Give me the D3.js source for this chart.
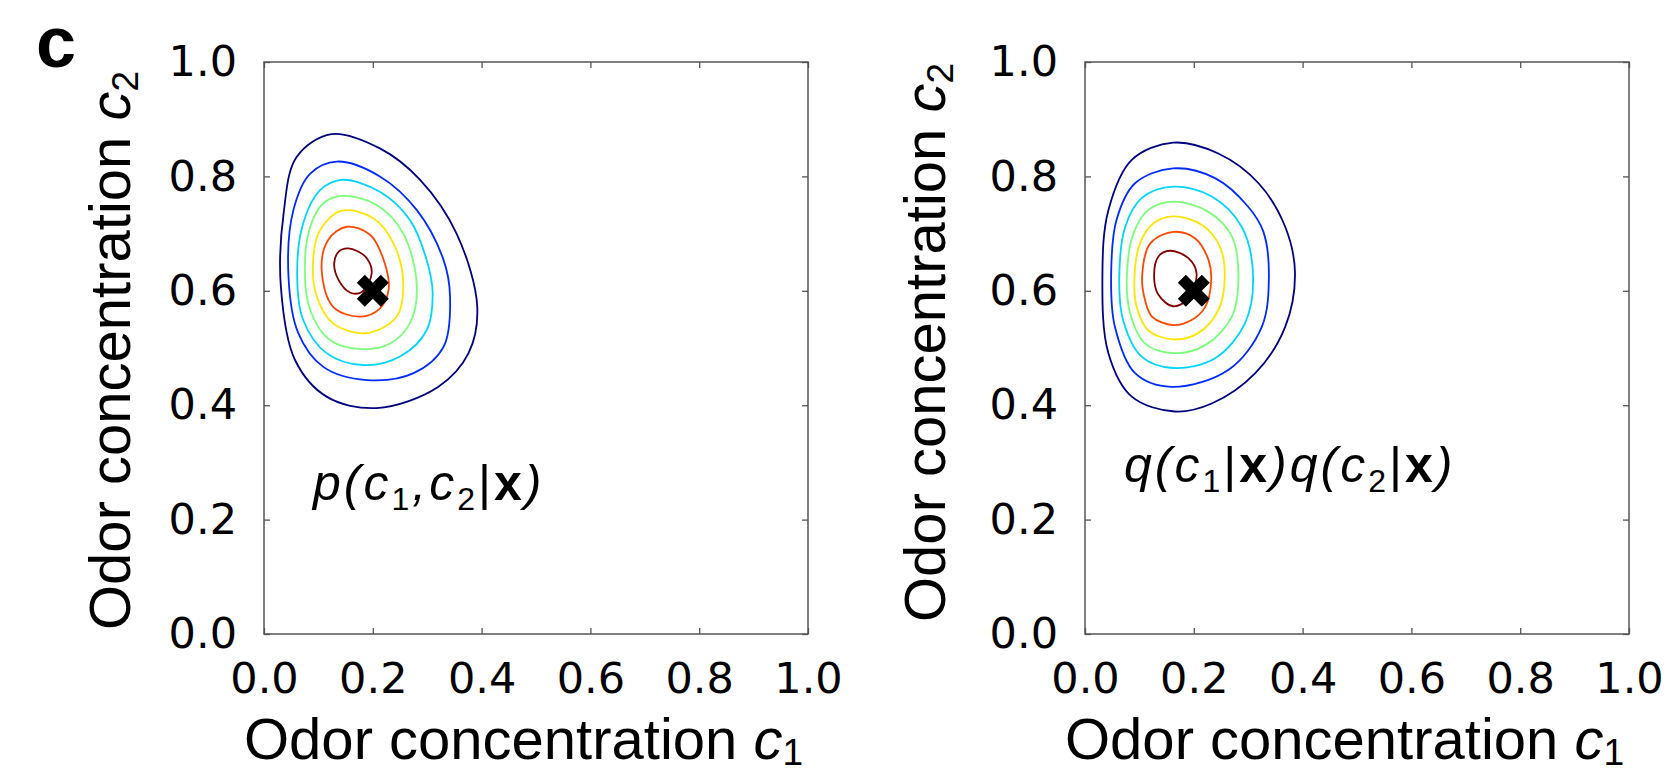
<!DOCTYPE html>
<html>
<head>
<meta charset="utf-8">
<script src="https://cdn.jsdelivr.net/npm/d3@7"></script>
<style>
  body { margin: 0; background: #fff; }
  svg { display: block; }
</style>
</head>
<body>
<svg width="1665" height="775"></svg>
<script>
// ticks and contour colours (jet, 7 levels low -> high)
var tickValues = [0, 0.2, 0.4, 0.6, 0.8, 1.0];
var levelColors = ['#000080', '#002aff', '#00d4ff', '#7bff7b', '#ffe500', '#ff4800', '#800000'];
var trueConc = [0.2, 0.6];

// p(c1,c2|x): contour rings, [c1, c2]
var jointRings = [
  [[0.124,0.874],[0.213,0.849],[0.287,0.794],[0.354,0.700],[0.392,0.572],[0.376,0.491],[0.320,0.432],[0.207,0.395],[0.115,0.415],[0.057,0.479],[0.031,0.607],[0.036,0.735],[0.060,0.834]],
  [[0.134,0.826],[0.213,0.800],[0.281,0.741],[0.330,0.654],[0.342,0.590],[0.330,0.502],[0.275,0.456],[0.189,0.444],[0.109,0.467],[0.063,0.526],[0.045,0.625],[0.054,0.741],[0.085,0.805]],
  [[0.143,0.794],[0.213,0.773],[0.268,0.724],[0.299,0.654],[0.310,0.596],[0.299,0.531],[0.250,0.485],[0.183,0.470],[0.115,0.491],[0.072,0.549],[0.061,0.625],[0.072,0.718],[0.103,0.776]],
  [[0.143,0.766],[0.207,0.750],[0.256,0.700],[0.281,0.607],[0.268,0.543],[0.232,0.508],[0.180,0.498],[0.121,0.514],[0.085,0.566],[0.075,0.636],[0.085,0.712],[0.109,0.753]],
  [[0.143,0.740],[0.201,0.727],[0.238,0.683],[0.256,0.613],[0.244,0.555],[0.189,0.526],[0.127,0.543],[0.097,0.590],[0.090,0.648],[0.103,0.706]],
  [[0.152,0.712],[0.195,0.698],[0.222,0.648],[0.229,0.601],[0.213,0.569],[0.177,0.555],[0.127,0.572],[0.106,0.636],[0.118,0.689]],
  [[0.155,0.674],[0.186,0.660],[0.198,0.631],[0.180,0.598],[0.158,0.597],[0.137,0.619],[0.129,0.648],[0.137,0.668]]
];

// q(c1|x)q(c2|x)
var factorRings = [
  [[0.162,0.859],[0.245,0.840],[0.319,0.788],[0.368,0.712],[0.386,0.631],[0.368,0.537],[0.313,0.456],[0.233,0.403],[0.165,0.389],[0.086,0.415],[0.043,0.491],[0.032,0.625],[0.043,0.741],[0.086,0.829]],
  [[0.162,0.814],[0.239,0.797],[0.300,0.747],[0.328,0.703],[0.338,0.625],[0.325,0.537],[0.264,0.462],[0.159,0.432],[0.092,0.456],[0.055,0.537],[0.048,0.625],[0.058,0.724],[0.092,0.788]],
  [[0.162,0.782],[0.233,0.765],[0.288,0.712],[0.309,0.625],[0.294,0.543],[0.239,0.482],[0.162,0.465],[0.104,0.485],[0.070,0.549],[0.063,0.625],[0.074,0.712],[0.104,0.762]],
  [[0.162,0.756],[0.227,0.738],[0.270,0.695],[0.282,0.625],[0.270,0.555],[0.221,0.505],[0.162,0.491],[0.110,0.508],[0.083,0.561],[0.077,0.625],[0.089,0.700],[0.116,0.741]],
  [[0.162,0.730],[0.215,0.715],[0.248,0.677],[0.257,0.625],[0.245,0.566],[0.208,0.526],[0.162,0.515],[0.116,0.531],[0.095,0.572],[0.091,0.625],[0.101,0.683],[0.126,0.718]],
  [[0.162,0.703],[0.202,0.692],[0.227,0.654],[0.232,0.619],[0.221,0.572],[0.196,0.549],[0.162,0.540],[0.123,0.555],[0.110,0.585],[0.105,0.625],[0.120,0.683]],
  [[0.156,0.670],[0.190,0.657],[0.205,0.631],[0.191,0.587],[0.162,0.573],[0.135,0.593],[0.127,0.625],[0.135,0.660]]
];

// in-plot formulas: [text, style]  i = italic, s = subscript, b = bold, r = roman
var jointNote = [['p','i'],['(','i'],['c','i'],['1','s'],[',','i'],['c','i'],['2','s'],['|','r'],['x','b'],[')','i']];
var factorNote = [['q','i'],['(','i'],['c','i'],['1','s'],['|','r'],['x','b'],[')','i'],
                  ['q','i'],['(','i'],['c','i'],['2','s'],['|','r'],['x','b'],[')','i']];

var svg = d3.select('svg');
var W = 544, H = 572, TOP = 62;
var labelFont = "'Liberation Sans', Arial, sans-serif";

var panels = [
  {rings: jointRings, left: 264, ylabX: 130, ylabY: 630, note: jointNote, noteX: 313, noteY: 500},
  {rings: factorRings, left: 1085, ylabX: 945, ylabY: 622, note: factorNote, noteX: 1124, noteY: 482}
];

function mathText(sel, parts, size, drop) {
  var shift = 0;
  parts.forEach(function(p) {
    var t = sel.append('tspan').text(p[0]);
    var target = p[1] == 's' ? drop : 0;
    t.attr('dy', target - shift);
    shift = target;
    if (p[1] == 's') t.attr('font-size', size * 0.64).attr('font-style', 'normal');
    else if (p[1] == 'b') t.attr('font-weight', 'bold').attr('font-style', 'normal');
    else if (p[1] == 'r') t.attr('font-style', 'normal');
    else t.attr('font-style', 'italic');
  });
}

// panel letter
svg.append('text')
  .attr('x', 36).attr('y', 67)
  .attr('font-family', labelFont).attr('font-weight', 'bold')
  .attr('font-size', 72)
  .text('c');

panels.forEach(function(pn) {
  var g = svg.append('g').attr('transform', 'translate(' + pn.left + ',' + TOP + ')');

  var x = d3.scaleLinear().domain([0, 1]).range([0, W]);
  var y = d3.scaleLinear().domain([0, 1]).range([H, 0]);

  var line = d3.line()
    .x(function(d) { return x(d[0]); })
    .y(function(d) { return y(d[1]); })
    .curve(d3.curveCatmullRomClosed.alpha(0.5));

  g.selectAll('path.ring')
    .data(pn.rings)
    .enter().append('path')
    .attr('class', 'ring')
    .attr('d', line)
    .attr('fill', 'none')
    .attr('stroke', function(d, i) { return levelColors[i]; })
    .attr('stroke-width', 1.8);

  // true concentration marker
  g.append('path')
    .attr('d', d3.symbol().type(d3.symbolCross).size(640))
    .attr('transform', 'translate(' + x(trueConc[0]) + ',' + y(trueConc[1]) + ') rotate(45)')
    .attr('fill', '#000');

  // axes, ticks pointing in on all four sides
  var fmt = d3.format('.1f');
  var bottom = g.append('g').attr('transform', 'translate(0,' + H + ')')
    .call(d3.axisBottom(x).tickValues(tickValues).tickSize(-6).tickPadding(28).tickFormat(fmt));
  var left = g.append('g')
    .call(d3.axisLeft(y).tickValues(tickValues).tickSize(-6).tickPadding(27).tickFormat(fmt));
  var topAx = g.append('g')
    .call(d3.axisTop(x).tickValues(tickValues).tickSize(-6).tickFormat(''));
  var rightAx = g.append('g').attr('transform', 'translate(' + W + ',0)')
    .call(d3.axisRight(y).tickValues(tickValues).tickSize(-6).tickFormat(''));

  [bottom, left, topAx, rightAx].forEach(function(a) {
    a.select('.domain').remove();
    a.selectAll('line').attr('stroke', '#555').attr('stroke-width', 1.3);
    a.selectAll('text')
      .attr('font-family', "'DejaVu Sans', sans-serif")
      .attr('font-size', 43)
      .attr('fill', '#000');
  });

  g.append('rect')
    .attr('width', W).attr('height', H)
    .attr('fill', 'none')
    .attr('stroke', '#555').attr('stroke-width', 1.5);

  // x label
  var xl = svg.append('text')
    .attr('x', pn.left - 20).attr('y', 759)
    .attr('font-family', labelFont).attr('font-size', 58);
  xl.append('tspan').text('Odor concentration ');
  mathText(xl, [['c','i'],['1','s']], 58, 6);

  // y label
  var yl = svg.append('text')
    .attr('transform', 'translate(' + pn.ylabX + ',' + pn.ylabY + ') rotate(-90)')
    .attr('font-family', labelFont).attr('font-size', 58);
  yl.append('tspan').text('Odor concentration ');
  mathText(yl, [['c','i'],['2','s']], 58, 8);

  // formula inside the axes
  var nt = svg.append('text')
    .attr('x', pn.noteX).attr('y', pn.noteY)
    .attr('font-family', labelFont).attr('font-size', 50)
    .attr('letter-spacing', 3);
  mathText(nt, pn.note, 50, 10);
});
</script>
</body>
</html>
